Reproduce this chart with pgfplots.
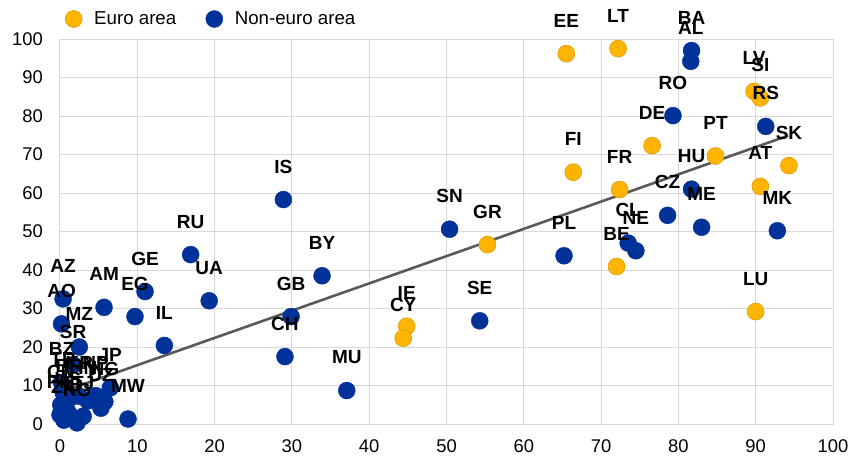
\documentclass[border=0pt]{standalone}
\usepackage{pgfplots}
\pgfplotsset{compat=1.18}
\usepackage{pgfplotstable}
\usepackage{fontspec}
\setmainfont{Liberation Sans}
\definecolor{cEuro}{HTML}{FFB400}
\definecolor{cNon}{HTML}{003299}
\definecolor{cGrid}{HTML}{D9D9D9}
\definecolor{cTrend}{HTML}{595959}

\pgfplotstableread{
x y label
65.5 96.2 EE
72.2 97.5 LT
89.8 86.4 LV
90.6 84.7 SI
76.6 72.3 DE
84.8 69.6 PT
94.3 67.1 SK
66.4 65.4 FI
72.4 60.9 FR
90.6 61.7 AT
55.3 46.6 GR
72.0 40.9 BE
90.0 29.2 LU
44.85 25.4 IE
44.4 22.3 CY
}\euro

\pgfplotstableread{
x y label
81.7 97.0 BA
81.6 94.2 AL
91.3 77.3 RS
79.3 80.1 RO
81.7 61.0 HU
78.6 54.2 CZ
83.0 51.1 ME
92.8 50.2 MK
73.5 47.0 CL
74.5 45.0 NE
65.2 43.7 PL
50.4 50.6 SN
54.3 26.8 SE
28.9 58.3 IS
29.9 27.9 GB
29.1 17.5 CH
37.1 8.7 MU
33.9 38.5 BY
19.3 32.0 UA
16.9 44.0 RU
11.0 34.4 GE
9.7 27.9 EG
5.7 30.3 AM
0.4 32.5 AZ
0.2 26.0 AO
2.5 20.0 MZ
13.5 20.4 IL
6.5 9.4 JP
8.8 1.3 MW
1.7 15.4 SR
0.2 10.8 BZ
0.4 8.2 TR
1.2 6.6 BR
2.5 7.2 KR
3.6 6.0 IN
4.6 7.4 NP
0.1 5.0 CN
1.0 3.2 US
0.0 2.4 PK
0.5 1.0 ZA
2.2 0.3 KG
3.0 2.0 TJ
5.3 4.1 UZ
5.8 5.8 NG
1.8 1.6 ID
}\noneuro

\begin{document}
\begin{tikzpicture}
\begin{axis}[
  name=ax,
  scale only axis, width=773pt, height=385pt,
  xmin=0, xmax=100, ymin=0, ymax=100,
  xtick distance=10, ytick distance=10,
  grid=major, grid style={cGrid, line width=1pt},
  axis line style={cGrid, line width=1pt},
  major tick length=0pt,
  clip=false,
  /pgf/number format/assume math mode=true,
  ticklabel style={font=\fontsize{18.4}{20}\selectfont, inner sep=0pt},
  yticklabel style={anchor=east, xshift=-17pt},
  xticklabel style={anchor=north, yshift=-15.7pt},
  legend style={at={(0,1)}, anchor=west, xshift=5pt, yshift=20pt,
    draw=none, fill=none, inner sep=0pt,
    font=\fontsize{18.7}{20}\selectfont,
    /tikz/every odd column/.append style={column sep=10pt},
    /tikz/every even column/.append style={column sep=27.5pt}},
  legend columns=-1,
  legend image code/.code={\draw[mark repeat=1,mark phase=1,#1] plot coordinates {(0pt,0pt)};},
  every node near coord/.append style={font=\bfseries\fontsize{19}{19}\selectfont,
    anchor=center, yshift=33pt, inner sep=0pt, text=black},
]
\addplot[only marks, mark=*, mark size=8.5pt,
  mark options={fill=cEuro, draw=cEuro!85!black, line width=0.5pt}]
  table[x=x, y=y] {\euro};
\addlegendentry{Euro area}
\addplot[only marks, mark=*, mark size=8.5pt,
  mark options={fill=cNon, draw=cNon}]
  table[x=x, y=y] {\noneuro};
\addlegendentry{Non-euro area}
\addplot[cTrend, line width=2.6pt, forget plot] coordinates {(0,8.2) (94.2,74.9)};
\addplot[draw=none, mark=none, nodes near coords, point meta=explicit symbolic, forget plot]
  table[x=x, y=y, meta=label] {\euro};
\addplot[draw=none, mark=none, nodes near coords, point meta=explicit symbolic, forget plot]
  table[x=x, y=y, meta=label] {\noneuro};
\coordinate (bl) at (rel axis cs:0,0);
\coordinate (tr) at (rel axis cs:1,1);
\end{axis}
\pgfresetboundingbox
\path[use as bounding box] ([xshift=-60pt,yshift=-32pt]bl) rectangle ([xshift=17pt,yshift=39pt]tr);
\end{tikzpicture}
\end{document}
